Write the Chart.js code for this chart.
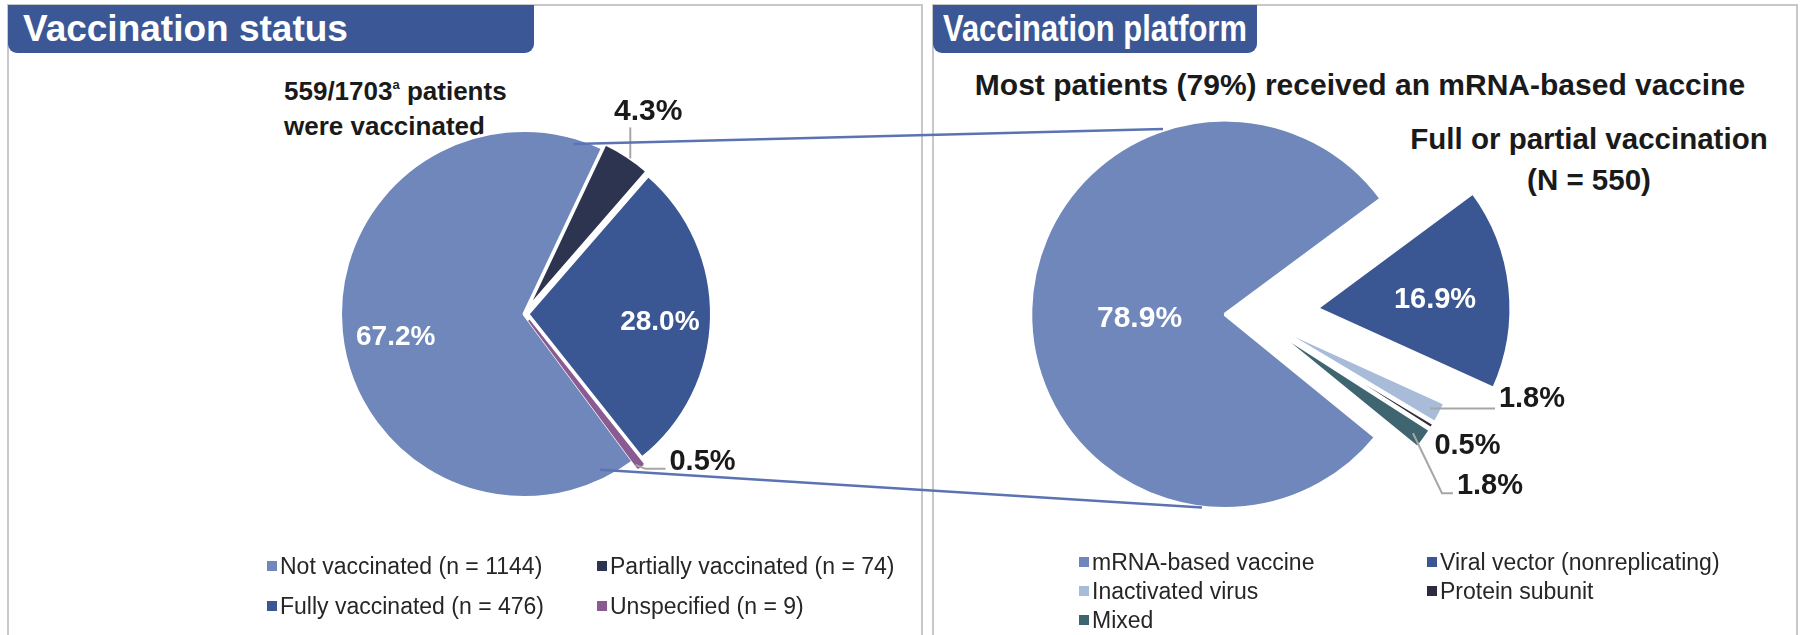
<!DOCTYPE html>
<html>
<head>
<meta charset="utf-8">
<script src="https://cdn.jsdelivr.net/npm/chart.js@4.4.1/dist/chart.umd.min.js"></script>
<style>
  html, body { margin:0; padding:0; background:#fff; }
  body { width:1800px; height:635px; position:relative; overflow:hidden; font-family:"Liberation Sans", Arial, Helvetica, sans-serif; color:#1f1f1f; }
  .panel { position:absolute; top:4px; height:700px; border:2px solid #c8c8c8; box-sizing:border-box; }
  .banner { position:absolute; top:5px; height:48px; line-height:48px; background:#3c5795; color:#fff; font-weight:bold; font-size:37px; border-radius:0 0 9px 9px; box-sizing:border-box; white-space:nowrap; }
  .banner .cond { display:inline-block; transform:scaleX(0.835); transform-origin:0 50%; }
  .txt { position:absolute; font-weight:bold; white-space:nowrap; color:#1a1a1a; }
  canvas { position:absolute; }
  .legend { position:absolute; display:grid; font-size:23px; color:#262626; }
  .legend .item { display:flex; align-items:center; white-space:nowrap; }
  .legend .sw { width:10px; height:10px; margin-right:3px; flex:none; }
</style>
</head>
<body>
<div class="panel" style="left:7px;width:916px;"></div>
<div class="panel" style="left:932px;width:866px;"></div>
<div class="banner" style="left:8px;width:526px;padding-left:15px;">Vaccination status</div>
<div class="banner" style="left:933px;width:324px;padding-left:10px;"><span class="cond">Vaccination platform</span></div>

<div class="txt" style="left:284px;top:75.5px;font-size:26px;line-height:31px;">559/1703<span style="font-size:13px;position:relative;top:-11px;">a</span> patients<br>were vaccinated</div>
<div class="txt" style="left:960px;width:800px;text-align:center;top:67.5px;font-size:30px;line-height:34px;">Most patients (79%) received an mRNA-based vaccine</div>
<div class="txt" style="left:1389px;width:400px;text-align:center;top:122px;font-size:29.5px;line-height:34px;">Full or partial vaccination</div>
<div class="txt" style="left:1389px;width:400px;text-align:center;top:163px;font-size:29.5px;line-height:34px;">(N = 550)</div>

<canvas id="statusChart" width="560" height="520" style="left:244px;top:54px;"></canvas>
<canvas id="platformChart" width="720" height="520" style="left:893px;top:55px;"></canvas>
<canvas id="overlay" width="1800" height="635" style="left:0;top:0;pointer-events:none;"></canvas>

<div id="statusLegend" class="legend" style="left:267px;top:546px;grid-template-columns:330px 330px;grid-auto-rows:40px;"></div>
<div id="platformLegend" class="legend" style="left:1079px;top:547.5px;grid-template-columns:348px 348px;grid-auto-rows:29px;"></div>

<script>
// ---- data ----
const statusLabels = ['Not vaccinated (n = 1144)', 'Partially vaccinated (n = 74)', 'Fully vaccinated (n = 476)', 'Unspecified (n = 9)'];
const statusCounts = [1144, 74, 476, 9];
const statusColors = ['#6f87bb', '#2d3450', '#3b5793', '#8a5b93'];

const platformLabels = ['mRNA-based vaccine', 'Viral vector (nonreplicating)', 'Inactivated virus', 'Protein subunit', 'Mixed'];
const platformPercents = [78.9, 16.9, 1.8, 0.5, 1.8];
const platformColors = ['#6f87bb', '#3b5793', '#a8bbd8', '#2e2b40', '#3f6670'];

// ---- style ----
const FONT = '"Liberation Sans", Arial, Helvetica, sans-serif';
const statusExplode = [0, 5, 4, 8];
const platformExplode = [28, 64, 17, 17, 17];

const statusTotal = statusCounts.reduce((a, b) => a + b, 0);
const statusPctText = statusCounts.map(v => (v / statusTotal * 100).toFixed(1) + '%');
const platformPctText = platformPercents.map(v => v.toFixed(1) + '%');

// explode slices by translating each arc along its mid-angle
const explodePlugin = {
  id: 'explode',
  afterDatasetUpdate(chart, args) {
    const ds = chart.data.datasets[args.index];
    const ex = ds.explode || [];
    args.meta.data.forEach((arc, i) => {
      const d = ex[i] || 0;
      const mid = (arc.startAngle + arc.endAngle) / 2;
      arc.x += Math.cos(mid) * d;
      arc.y += Math.sin(mid) * d;
    });
  }
};

const sliceLabels = {
  id: 'sliceLabels',
  afterDatasetsDraw(chart, args, opts) {
    const ctx = chart.ctx;
    const meta = chart.getDatasetMeta(0);
    ctx.save();
    meta.data.forEach((arc, i) => {
      const s = opts.items[i];
      if (!s) return;
      const text = opts.texts[i];
      const mid = (arc.startAngle + arc.endAngle) / 2;
      const r = arc.outerRadius;
      ctx.font = s.font;
      ctx.fillStyle = s.color;
      ctx.textAlign = 'center';
      ctx.textBaseline = 'middle';
      if (s.inside) {
        const a = mid + (s.dAngle || 0) * Math.PI / 180;
        ctx.fillText(text, arc.x + Math.cos(a) * r * s.frac, arc.y + Math.sin(a) * r * s.frac);
      } else {
        const ax = arc.x + Math.cos(mid) * (r - 1.5);
        const ay = arc.y + Math.sin(mid) * (r - 1.5);
        if (s.leader) {
          ctx.strokeStyle = '#a6a6a6';
          ctx.lineWidth = 2;
          ctx.beginPath();
          s.leader.forEach(([dx, dy], k) => k ? ctx.lineTo(ax + dx, ay + dy) : ctx.moveTo(ax + dx, ay + dy));
          ctx.stroke();
        }
        ctx.fillText(text, ax + s.text[0], ay + s.text[1]);
      }
    });
    ctx.restore();
  }
};

const baseOptions = (items, texts) => ({
  responsive: false,
  animation: false,
  events: [],
  layout: { padding: 0 },
  plugins: {
    legend: { display: false },
    tooltip: { enabled: false },
    sliceLabels: { items, texts }
  }
});

const wIn = (size) => ({ inside: true, font: `bold ${size}px ${FONT}`, color: '#ffffff' });
const bOut = (size) => ({ inside: false, font: `bold ${size}px ${FONT}`, color: '#1a1a1a' });

const statusChart = new Chart(document.getElementById('statusChart'), {
  type: 'pie',
  data: {
    labels: statusLabels,
    datasets: [{
      data: statusCounts,
      backgroundColor: statusColors,
      borderColor: ['#ffffff', '#ffffff', '#ffffff', '#8a5b93'],
      borderWidth: [3, 3, 3, 2],
      explode: statusExplode,
      radius: 183.5,
      rotation: -216.5
    }]
  },
  options: baseOptions([
    Object.assign(wIn(28), { frac: 0.71, dAngle: -4.5 }),
    Object.assign(bOut(30), { leader: [[4, 1], [4, -30]], text: [22, -46] }),
    Object.assign(wIn(28), { frac: 0.72, dAngle: 2.2 }),
    Object.assign(bOut(29), { leader: [[-4, 0], [6, 4], [26, 4]], text: [63, -3] })
  ], statusPctText),
  plugins: [explodePlugin, sliceLabels]
});

const platformChart = new Chart(document.getElementById('platformChart'), {
  type: 'pie',
  data: {
    labels: platformLabels,
    datasets: [{
      data: platformPercents,
      backgroundColor: platformColors,
      borderColor: '#ffffff',
      borderWidth: 3.5,
      explode: platformExplode,
      radius: 194.5,
      rotation: -230.8
    }]
  },
  options: baseOptions([
    Object.assign(wIn(30), { frac: 0.44, dAngle: -4 }),
    Object.assign(wIn(29), { frac: 0.61, dAngle: 2 }),
    Object.assign(bOut(29), { leader: [[-9, -4], [56, -4]], text: [93, -14] }),
    Object.assign(bOut(29), { text: [36, 20] }),
    Object.assign(bOut(29), { leader: [[-10, -5], [19, 55], [30, 55]], text: [67, 48] })
  ], platformPctText),
  plugins: [explodePlugin, sliceLabels]
});

// connector lines between the two pies
(function () {
  const ov = document.getElementById('overlay');
  const ctx = ov.getContext('2d');
  const c1 = document.getElementById('statusChart');
  const c2 = document.getElementById('platformChart');
  function pt(chart, canvas, idx, thetaDeg, frac) {
    const arc = chart.getDatasetMeta(0).data[idx];
    const a = (thetaDeg - 90) * Math.PI / 180;
    const r = arc.outerRadius * frac;
    return [canvas.offsetLeft + arc.x + Math.cos(a) * r, canvas.offsetTop + arc.y + Math.sin(a) * r];
  }
  const nv = statusChart.getDatasetMeta(0).data[0];
  const endDeg = nv.endAngle * 180 / Math.PI + 90;
  const startDeg = nv.startAngle * 180 / Math.PI + 90;
  const l1 = pt(statusChart, c1, 0, endDeg - 9, 0.965);
  const l2 = pt(statusChart, c1, 0, startDeg + 10.5, 0.945);
  const r1 = pt(platformChart, c2, 0, 341.5, 1.005);
  const r2 = pt(platformChart, c2, 0, 186.8, 1.0);
  ctx.strokeStyle = '#5b73b2';
  ctx.lineWidth = 2.5;
  ctx.beginPath();
  ctx.moveTo(l1[0], l1[1]); ctx.lineTo(r1[0], r1[1]);
  ctx.moveTo(l2[0], l2[1]); ctx.lineTo(r2[0], r2[1]);
  ctx.stroke();
})();

// HTML legends built from the chart data
function buildLegend(el, labels, colors) {
  labels.forEach((lab, i) => {
    const it = document.createElement('div');
    it.className = 'item';
    const sw = document.createElement('span');
    sw.className = 'sw';
    sw.style.background = colors[i];
    const tx = document.createElement('span');
    tx.textContent = lab;
    it.appendChild(sw); it.appendChild(tx);
    el.appendChild(it);
  });
}
buildLegend(document.getElementById('statusLegend'), statusLabels, statusColors);
buildLegend(document.getElementById('platformLegend'), platformLabels, platformColors);
</script>
</body>
</html>
